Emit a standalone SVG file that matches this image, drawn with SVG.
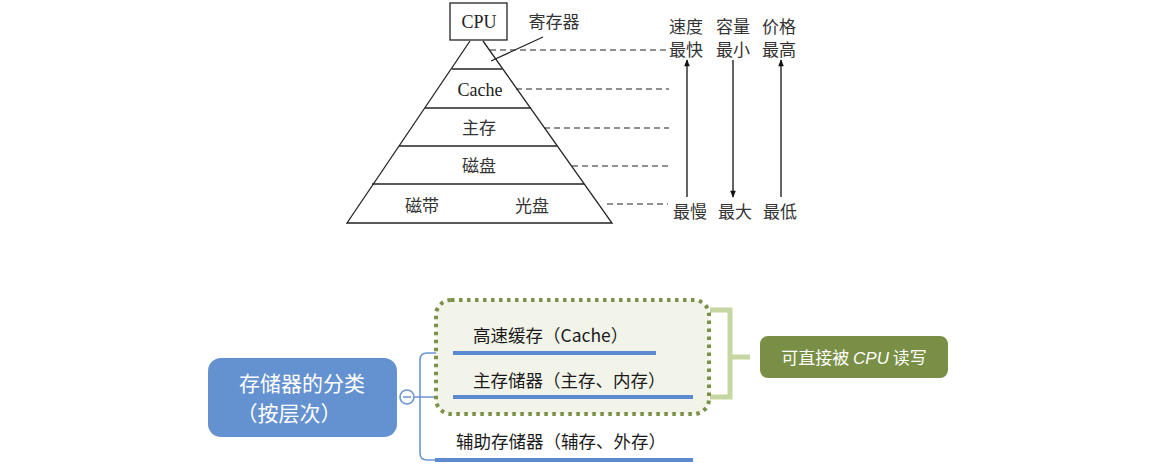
<svg xmlns="http://www.w3.org/2000/svg" width="1170" height="467" viewBox="0 0 1170 467">
<defs>
<marker id="ah" viewBox="0 0 10 10" refX="9" refY="5" markerWidth="12" markerHeight="7" orient="auto" markerUnits="userSpaceOnUse">
<path d="M0,1 L10,5 L0,9 Z" fill="#111"/>
</marker>
</defs>
<style>
.ser{font-family:"Liberation Serif","Noto Sans CJK SC",serif;fill:#222;font-size:18px}
.cjk{font-family:"Noto Sans CJK SC",sans-serif;fill:#333;font-size:17px}
.dash{stroke:#222;stroke-width:1.2;stroke-dasharray:6,4;fill:none}
.pl{stroke:#222;stroke-width:1.3;fill:none}
.arr{stroke:#111;stroke-width:1.3;marker-end:url(#ah)}
.ul{stroke:#5b8ad0;stroke-width:4}
.thin{stroke:#6a95d4;stroke-width:1.6;fill:none}
.lbl{font-family:"Noto Sans CJK SC",sans-serif;fill:#1a1a1a;font-size:17.5px}
.root{font-family:"Noto Sans CJK SC",sans-serif;font-size:21px;fill:#fff}
</style>
<rect width="1170" height="467" fill="#fff"/>

<g id="pyramid">
<rect x="450" y="3" width="57" height="37" class="pl"/>
<text x="479" y="28" class="ser" text-anchor="middle">CPU</text>
<path d="M470,41 L347,223 L612,223 L483,41" class="pl"/>
<line x1="452" y1="69" x2="502" y2="69" class="pl"/>
<line x1="425" y1="108" x2="531" y2="108" class="pl"/>
<line x1="399" y1="146" x2="557" y2="146" class="pl"/>
<line x1="372" y1="184" x2="584" y2="184" class="pl"/>
<text x="554" y="28" class="cjk" text-anchor="middle">寄存器</text>
<line x1="543" y1="37" x2="491" y2="61" class="pl"/>
<text x="480" y="96" class="ser" text-anchor="middle">Cache</text>
<text x="479" y="134" class="cjk" text-anchor="middle">主存</text>
<text x="479" y="172" class="cjk" text-anchor="middle">磁盘</text>
<text x="422" y="212" class="cjk" text-anchor="middle">磁带</text>
<text x="532" y="212" class="cjk" text-anchor="middle">光盘</text>
</g>

<g id="scale">
<text x="686" y="33" class="cjk" text-anchor="middle">速度</text>
<text x="686" y="56" class="cjk" text-anchor="middle">最快</text>
<text x="733" y="33" class="cjk" text-anchor="middle">容量</text>
<text x="733" y="56" class="cjk" text-anchor="middle">最小</text>
<text x="779" y="33" class="cjk" text-anchor="middle">价格</text>
<text x="779" y="56" class="cjk" text-anchor="middle">最高</text>
<text x="690" y="218" class="cjk" text-anchor="middle">最慢</text>
<text x="735" y="218" class="cjk" text-anchor="middle">最大</text>
<text x="780" y="218" class="cjk" text-anchor="middle">最低</text>
</g>

<g id="connectors">
<line x1="490" y1="50" x2="667" y2="50" class="dash"/>
<line x1="516" y1="89" x2="669" y2="89" class="dash"/>
<line x1="544" y1="128" x2="669" y2="128" class="dash"/>
<line x1="572" y1="166" x2="669" y2="166" class="dash"/>
<line x1="607" y1="204" x2="668" y2="204" class="dash"/>
<line x1="687" y1="197" x2="687" y2="60" class="arr"/>
<line x1="733" y1="60" x2="733" y2="197" class="arr"/>
<line x1="781" y1="197" x2="781" y2="60" class="arr"/>
<path d="M414,397 L455,397" class="thin"/>
<path d="M455,353 L427,353 Q420,353 420,360 L420,453 Q420,460 427,460 L436,460" class="thin"/>
<path d="M710,310 L730,310 L730,397 L710,397 M730,357 L750,357" stroke="#c6d6a1" stroke-width="5" fill="none"/>
</g>

<g id="group-box">
<rect x="436" y="300" width="273" height="114" rx="15" fill="#f2f4ea" stroke="#7a9147" stroke-width="4" stroke-dasharray="3.5,4.5"/>
</g>

<g id="root">
<rect x="208" y="358" width="189" height="79" rx="13" fill="#6491cf"/>
<text x="302" y="391" class="root" text-anchor="middle">存储器的分类</text>
<text x="289" y="421" class="root" text-anchor="middle">（按层次）</text>
<circle cx="407" cy="397" r="7" fill="#fff" stroke="#6a95d4" stroke-width="1.6"/>
<line x1="403" y1="397" x2="411" y2="397" stroke="#6a95d4" stroke-width="1.5"/>
</g>

<g id="cache">
<text x="473" y="342" class="lbl">高速缓存（Cache）</text>
<line x1="453" y1="353" x2="656" y2="353" class="ul"/>
</g>
<g id="main-mem">
<text x="473" y="387" class="lbl">主存储器（主存、内存）</text>
<line x1="453" y1="397" x2="693" y2="397" class="ul"/>
</g>
<g id="aux-mem">
<text x="456" y="448" class="lbl">辅助存储器（辅存、外存）</text>
<line x1="435" y1="460" x2="693" y2="460" class="ul"/>
</g>

<g id="cpu-rw">
<rect x="760" y="336" width="188" height="42" rx="8" fill="#7a8f46"/>
<text x="854" y="364" font-family="Noto Sans CJK SC, sans-serif" font-size="17" fill="#fff" text-anchor="middle">可直接被 <tspan font-style="italic" font-family="Liberation Sans, sans-serif">CPU</tspan> 读写</text>
</g>
</svg>
